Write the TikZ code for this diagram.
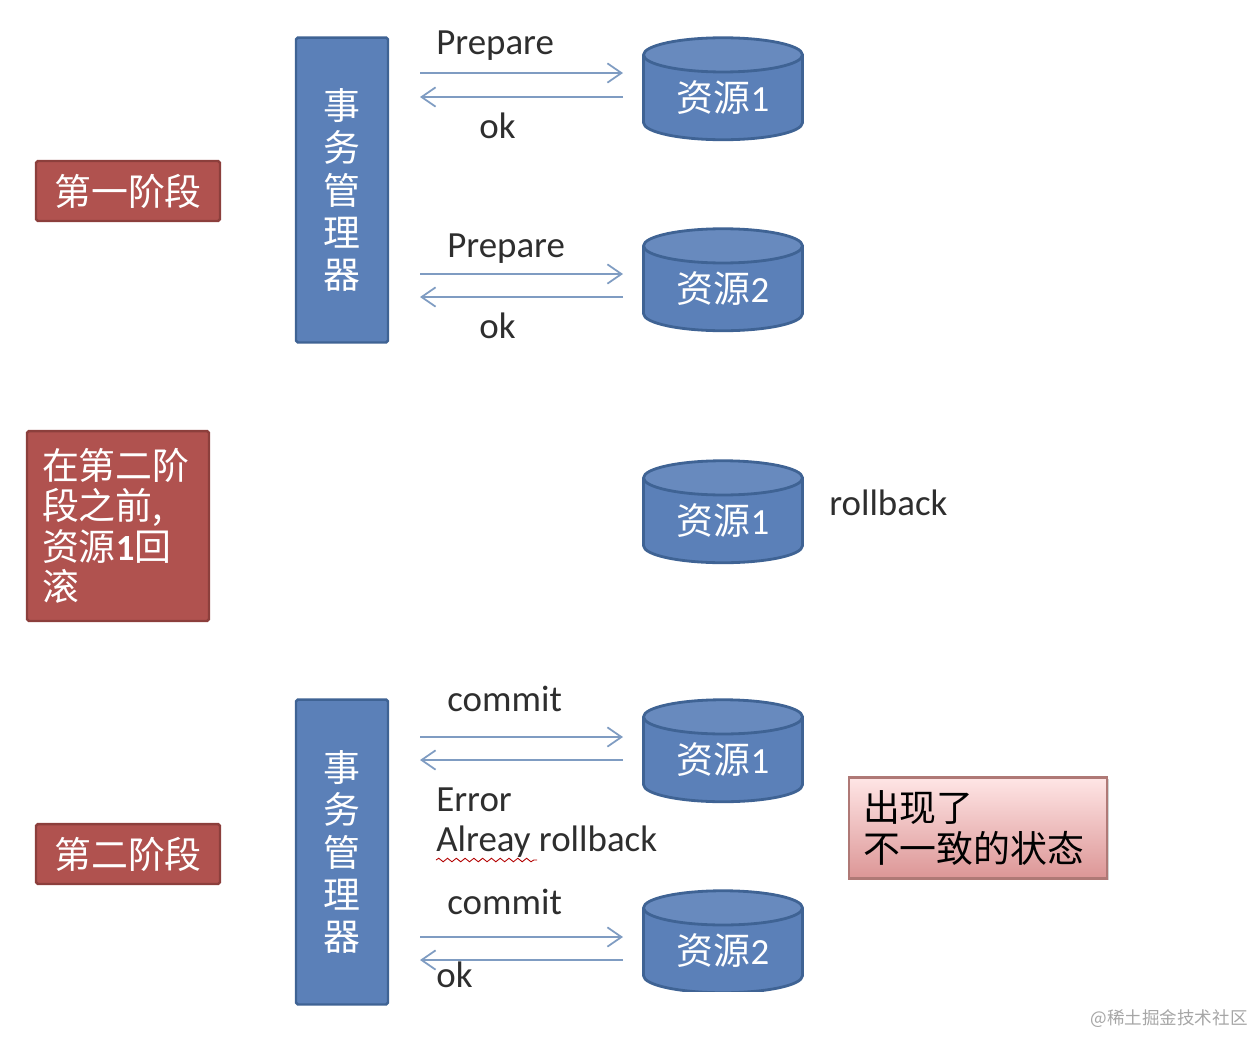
\documentclass[tikz,border=0pt]{standalone}
\usepackage{fontspec}
\setmainfont{Carlito}
\newfontfamily\cjk{Noto Sans CJK SC}
\usetikzlibrary{positioning,arrows.meta,shapes.geometric,shadows,decorations.pathmorphing}

\begin{document}
\begin{tikzpicture}[x=0.02cm,y=-0.02cm,>={Straight Barb[length=8pt,width=11pt]},
    msg/.style={draw=msgblue,line width=1pt},
    word/.style={anchor=west,inner sep=0pt,text=wordgray,font=\fontsize{21pt}{24pt}\selectfont},
    redbox/.style={draw=redline,line width=1.4pt,fill=redfill,rounded corners=1pt,text=white,font=\fontsize{21pt}{23pt}\selectfont\cjk},
    tmbox/.style={draw=blueline,line width=1.4pt,fill=bluefill,rounded corners=1pt,text=white,align=center,minimum width=1.84cm,minimum height=6.1cm,font=\fontsize{21pt}{24pt}\selectfont\cjk},
    res/.style={cylinder,shape border rotate=90,shape aspect=0.37,draw=blueline,line width=1.6pt,cylinder uses custom fill,cylinder body fill=bluefill,cylinder end fill=bluefill!92!white,minimum width=3.18cm,minimum height=2.04cm,inner sep=0pt,text=white,font=\fontsize{21pt}{24pt}\selectfont},
  ]
  \definecolor{msgblue}{HTML}{7F9CC2}
  \definecolor{wordgray}{HTML}{2E2E2E}
  \definecolor{redfill}{HTML}{B0524F}
  \definecolor{redline}{HTML}{8C3F3C}
  \definecolor{bluefill}{HTML}{5B80B8}
  \definecolor{blueline}{HTML}{3F6394}
  \useasboundingbox (0,0) rectangle (1254,1036);

  %%%%

  \node[redbox,minimum width=3.68cm,minimum height=1.2cm] (phase1) at (128,191) {第一阶段};
  \node[tmbox] (tm1) at (342,190) {事\\务\\管\\理\\器};
  \node[res] (r1a) at (723,98) {{\cjk 资源}1};
  \node[res] (r2a) at (723,289) {{\cjk 资源}2};

  \node[word] (prep1) at (436,46) {Prepare};
  \node[word] (ok1) at (479,126) {ok};
  \node[word] (prep2) at (447,249) {Prepare};
  \node[word] (ok2) at (479,326) {ok};

  \coordinate (m1) at (420,73);
  \coordinate (m2) at (623,73);
  \coordinate (m3) at (623,97);
  \coordinate (m4) at (420,97);
  \coordinate (m5) at (420,274);
  \coordinate (m6) at (623,274);
  \coordinate (m7) at (623,297);
  \coordinate (m8) at (420,297);
  \draw[msg,->] (m1) -- (m2);
  \draw[msg,->] (m3) -- (m4);
  \draw[msg,->] (m5) -- (m6);
  \draw[msg,->] (m7) -- (m8);

  %%%%

  \node[redbox,minimum width=3.64cm,minimum height=3.8cm,text width=3.04cm,align=left] (before) at (118,526) {在第二阶\\段之前,\\资源{\rmfamily\bfseries 1}回\\滚};
  \node[res] (r1b) at (723,521) {{\cjk 资源}1};
  \node[word] (back) at (829,503) {rollback};

  %%%%

  \node[redbox,minimum width=3.68cm,minimum height=1.2cm] (phase2) at (128,854) {第二阶段};
  \node[tmbox] (tm2) at (342,852) {事\\务\\管\\理\\器};
  \node[res] (r1c) at (723,760) {{\cjk 资源}1};
  \node[res] (r2c) at (723,951) {{\cjk 资源}2};
  \fill[white] (645,992) rectangle (810,1000);

  \node[word] (com1) at (447,699) {commit};
  \node[word] (err) at (436,800) {Error};
  \node[word] (alr) at (436,842) {Alreay rollback};
  \node[word] (com2) at (447,902) {commit};
  \node[word] (ok3) at (436,975) {ok};

  \coordinate (w1) at (436,860);
  \coordinate (w2) at (537,860);
  \draw[red!70!black,line width=0.5pt,decorate,decoration={snake,amplitude=1pt,segment length=5pt}] (w1) -- (w2);

  \coordinate (n1) at (420,737);
  \coordinate (n2) at (623,737);
  \coordinate (n3) at (623,760);
  \coordinate (n4) at (420,760);
  \coordinate (n5) at (420,937);
  \coordinate (n6) at (623,937);
  \coordinate (n7) at (623,960);
  \coordinate (n8) at (420,960);
  \draw[msg,->] (n1) -- (n2);
  \draw[msg,->] (n3) -- (n4);
  \draw[msg,->] (n5) -- (n6);
  \draw[msg,->] (n7) -- (n8);

  \node[draw=redline!70,line width=1.2pt,top color=red!10!white,bottom color=red!50!gray!55,drop shadow={opacity=0.35,shadow xshift=1pt,shadow yshift=-1pt},minimum width=5.16cm,minimum height=2.02cm,text width=4.6cm,align=left,text=black,font=\fontsize{21pt}{23.5pt}\selectfont\cjk] (state) at (978,828) {出现了\\不一致的状态};

  \node[anchor=east,inner sep=0pt,text=gray!70,font=\fontsize{10pt}{12pt}\selectfont\cjk] (mark) at (1248,1019) {@稀土掘金技术社区};

\end{tikzpicture}
\end{document}
